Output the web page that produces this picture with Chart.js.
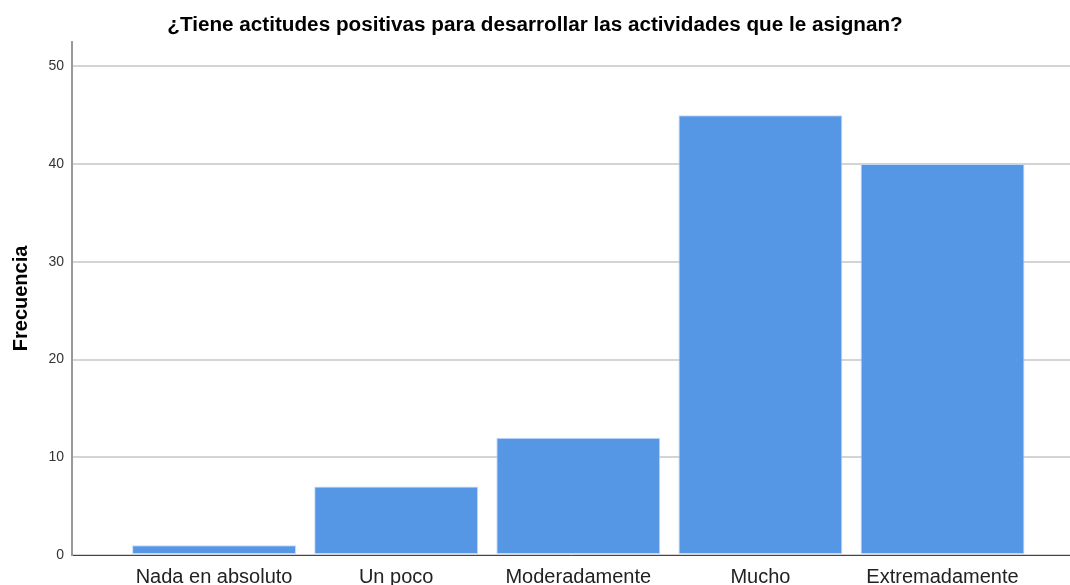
<!DOCTYPE html>
<html>
<head>
<meta charset="utf-8">
<script src="https://cdn.jsdelivr.net/npm/chart.js@4"></script>
<style>
  html, body { margin: 0; padding: 0; background: #fff; }
  #wrap { width: 1070px; height: 585px; }
</style>
</head>
<body>
<div id="wrap"><canvas id="myChart" width="1070" height="585"></canvas></div>
<script>
// categories and frequencies
const categorias = ['Nada en absoluto', 'Un poco', 'Moderadamente', 'Mucho', 'Extremadamente'];
const frecuencias = [1, 7, 12, 45, 40];
const yTicks = [0, 10, 20, 30, 40, 50];

const puntos = categorias.map((c, i) => ({x: i, y: frecuencias[i]}));

new Chart('myChart', {
    type: 'bar',
    data: {
        datasets: [{
            label: 'Frecuencia',
            data: puntos,
            backgroundColor: '#5596e5',
            borderColor: 'rgba(190,215,245,0.9)',
            borderWidth: 1,
            borderSkipped: false,
            barPercentage: 0.9,
            categoryPercentage: 1.0
        }]
    },
    options: {
        responsive: false,
        animation: false,
        plugins: {
            legend: {display: false},
            tooltip: {enabled: false},
            title: {
                display: true,
                text: '¿Tiene actitudes positivas para desarrollar las actividades que le asignan?',
                color: '#000',
                font: {family: 'Liberation Sans', size: 20.7, weight: 'bold'},
                padding: {top: 13, bottom: 4}
            }
        },
        scales: {
            x: {
                type: 'linear',
                offset: false,
                min: -0.78,
                max: 4.7,
                afterBuildTicks: (scale) => { scale.ticks = categorias.map((c, i) => ({value: i})); },
                afterFit: (scale) => { scale.height = 30; },
                grid: {display: false, drawTicks: false},
                border: {display: true, color: '#444', width: 1},
                ticks: {
                    autoSkip: false,
                    maxRotation: 0,
                    padding: 10,
                    color: '#222',
                    font: {family: 'Liberation Sans', size: 20},
                    callback: (v) => categorias[v]
                }
            },
            y: {
                min: 0,
                max: 52.5,
                afterBuildTicks: (scale) => { scale.ticks = yTicks.map(v => ({value: v})); },
                afterFit: (scale) => { scale.width = 72; },
                grid: {color: '#d4d4d4', lineWidth: 2, drawTicks: false},
                border: {display: true, color: '#999', width: 2},
                ticks: {
                    padding: 8,
                    color: '#333',
                    font: {family: 'Liberation Sans', size: 14}
                },
                title: {
                    display: true,
                    text: 'Frecuencia',
                    color: '#000',
                    font: {family: 'Liberation Sans', size: 20, weight: 'bold'},
                    padding: {top: 9, bottom: 4}
                }
            }
        }
    }
});
</script>
</body>
</html>
